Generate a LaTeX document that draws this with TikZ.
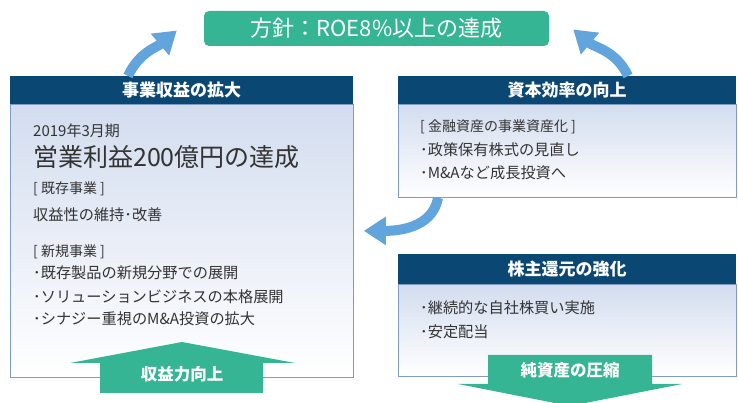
\documentclass[tikz,border=0pt]{standalone}
\usepackage{fontspec}
\setmainfont{Noto Sans CJK JP}
\usepackage{tikz}
\usetikzlibrary{arrows.meta}

\definecolor{goalgreen}{HTML}{35B593}
\definecolor{navy}{HTML}{0B4773}
\definecolor{boxtop}{HTML}{D3DDEF}
\definecolor{boxline}{HTML}{7F9CC2}
\definecolor{flowblue}{HTML}{62A5DD}
\definecolor{ink}{HTML}{333333}

\tikzset{
  headbox/.style={fill=navy, text=white, anchor=north west, inner sep=0pt,
                  font=\fontsize{17}{17}\bfseries\selectfont},
  bodybox/.style={draw=boxline, line width=0.8pt, top color=boxtop, bottom color=white,
                  anchor=north west, inner sep=0pt},
  txt/.style={anchor=west, text=ink, inner sep=0pt, font=\fontsize{15.2}{15.2}\selectfont},
  tag/.style={txt, font=\fontsize{14}{14}\selectfont},
  flow/.style={draw=flowblue, line width=10pt, -{Triangle[width=27pt,length=22pt]}},
  bigarrow/.style={fill=goalgreen},
  arrowtext/.style={text=white, inner sep=0pt, font=\fontsize{16.5}{16.5}\bfseries\selectfont}
}

\begin{document}
\begin{tikzpicture}[x=1pt, y=1pt]
   \useasboundingbox (0,0) rectangle (738,403);

   \node [fill=goalgreen, rounded corners=5pt, text=white, minimum width=345pt, minimum height=35pt,
          font=\fontsize{22}{22}\selectfont] (goal) at (376.5,374.5) {方針：ROE8\%以上の達成};

   \node [bodybox, minimum width=343pt, minimum height=273pt] (leftbody) at (10,299) {};
   \node [headbox, minimum width=343pt, minimum height=28pt] (lefthead) at (10,327) {事業収益の拡大};
   \node [bodybox, minimum width=338pt, minimum height=93pt]  (capbody)  at (398,299) {};
   \node [headbox, minimum width=338pt, minimum height=28pt]  (caphead)  at (398,327) {資本効率の向上};
   \node [bodybox, minimum width=338pt, minimum height=92pt]  (retbody)  at (398,119) {};
   \node [headbox, minimum width=338pt, minimum height=30pt]  (rethead)  at (398,149) {株主還元の強化};

   \node [txt, font=\fontsize{15}{15}\selectfont] (period) at (33,272) {2019年3月期};
   \node [txt, font=\fontsize{25}{25}\selectfont] (target) at (33,246) {営業利益200億円の達成};
   \node [tag] (existtag) at (33,214) {[ 既存事業 ]};
   \node [txt] (exist)    at (33,188) {収益性の維持･改善};
   \node [tag] (newtag)   at (33,151) {[ 新規事業 ]};
   \node [txt] (newa)     at (33,130) {･既存製品の新規分野での展開};
   \node [txt] (newb)     at (33,106) {･ソリューションビジネスの本格展開};
   \node [txt] (newc)     at (33,84)  {･シナジー重視のM\&A投資の拡大};

   \node [tag] (captag)   at (420,276) {[ 金融資産の事業資産化 ]};
   \node [txt] (capa)     at (420,253) {･政策保有株式の見直し};
   \node [txt] (capb)     at (420,230) {･M\&Aなど成長投資へ};

   \node [txt] (reta)     at (420,95)  {･継続的な自社株買い実施};
   \node [txt] (retb)     at (420,71)  {･安定配当};

   \fill [bigarrow] (100,10) -- (100,40) -- (70,40) -- (182,61) -- (295,40) -- (263,40) -- (263,10) -- cycle;
   \node [arrowtext] (gain) at (182,29) {収益力向上};
   \fill [bigarrow] (488,48) -- (652,48) -- (652,19) -- (682,19) -- (570,-3) -- (458,19) -- (488,19) -- cycle;
   \node [arrowtext] (shrink) at (570,33) {純資産の圧縮};

   \draw [flow] ([xshift=118pt]lefthead.north west) to[out=65, in=-140] ([xshift=-27pt, yshift=-2pt]goal.west);
   \draw [flow] ([xshift=230pt]caphead.north west) to[out=115, in=-40] ([xshift=24pt, yshift=-1pt]goal.east);
   \draw [flow] ([xshift=40pt]capbody.south west) to[out=-100, in=0] ([xshift=10pt, yshift=10pt]leftbody.east);
\end{tikzpicture}
\end{document}
